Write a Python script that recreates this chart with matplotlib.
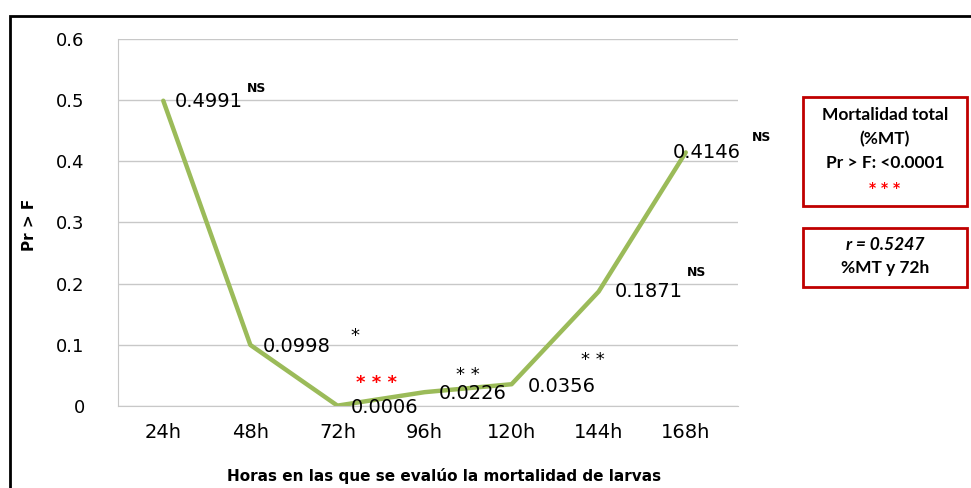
import matplotlib.pyplot as plt
from matplotlib.patches import Rectangle

# data
horas = ["24h", "48h", "72h", "96h", "120h", "144h", "168h"]
pr_f = [0.4991, 0.0998, 0.0006, 0.0226, 0.0356, 0.1871, 0.4146]
signif = ["NS", "*", "* * *", "* *", "* *", "NS", "NS"]
yticks = [0, 0.1, 0.2, 0.3, 0.4, 0.5, 0.6]
ytick_labels = ["0", "0.1", "0.2", "0.3", "0.4", "0.5", "0.6"]

W, H = 971, 488
fig = plt.figure(figsize=(W / 100, H / 100), dpi=100)
ax = fig.add_axes([118 / W, 1 - 406 / H, 620 / W, 367 / H])

green = "#9BBB59"
ax.plot(range(len(pr_f)), pr_f, color=green, lw=3.2, solid_capstyle="round")

ax.set_xlim(-0.52, 6.6)
ax.set_ylim(0, 0.6)
ax.set_yticks(yticks)
ax.set_yticklabels(ytick_labels, fontsize=13)
ax.set_xticks(range(len(horas)))
ax.set_xticklabels(horas, fontsize=14)
ax.tick_params(length=0)
ax.tick_params(axis="y", pad=24)
ax.tick_params(axis="x", pad=12)
ax.grid(axis="y", color="#c8c8c8", lw=1)
ax.set_axisbelow(True)
for s in ["top", "right"]:
    ax.spines[s].set_visible(False)
for s in ["left", "bottom"]:
    ax.spines[s].set_color("#c8c8c8")

# value labels (offsets in pixels from each point)
lab_off = [(11, -1), (12, -2), (13, -2), (14, -1), (16, -2), (16, 0), (-13, 0)]
sig_off = [(93, 12), (105, 9), (39, 23), (43, 17), (81, 24), (98, 19), (76, 15)]
for i, v in enumerate(pr_f):
    dx, dy = lab_off[i]
    ax.annotate(f"{v:.4f}", (i, v), xytext=(dx, dy), textcoords="offset pixels",
                ha="left", va="center", fontsize=14)
    sx, sy = sig_off[i]
    s = signif[i]
    if s == "NS":
        ax.annotate(s, (i, v), xytext=(sx, sy), textcoords="offset pixels",
                    ha="center", va="center", fontsize=9, fontweight="bold")
    elif s == "* * *":
        ax.annotate(s, (i, v), xytext=(sx, sy), textcoords="offset pixels",
                    ha="center", va="center", fontsize=13, fontweight="bold", color="red")
    else:
        ax.annotate(s, (i, v), xytext=(sx, sy), textcoords="offset pixels",
                    ha="center", va="center", fontsize=13)

# axis titles
fig.text(30 / W, 1 - 225 / H, "Pr > F", rotation=90, ha="center", va="center",
         fontsize=11, fontweight="bold")
fig.text(444 / W, 1 - 476 / H, "Horas en las que se evalúo la mortalidad de larvas",
         ha="center", va="center", fontsize=11, fontweight="bold")

# outer frame
fig.patches.append(Rectangle((10 / W, -0.1), 1.1, 1 - 16 / H + 0.1, transform=fig.transFigure,
                             fill=False, ec="black", lw=2))

# side boxes
red = "#C00000"
fig.patches.append(Rectangle((803 / W, 1 - 206 / H), 164 / W, 109 / H, transform=fig.transFigure,
                             fill=False, ec=red, lw=2))
fig.patches.append(Rectangle((803 / W, 1 - 287 / H), 164 / W, 59 / H, transform=fig.transFigure,
                             fill=False, ec=red, lw=2))
bx = 885 / W
bf = ["Lato", "DejaVu Sans"]
for txt, y in [("Mortalidad total", 115), ("(%MT)", 139), ("Pr > F: <0.0001", 163)]:
    fig.text(bx, 1 - y / H, txt, ha="center", va="center", fontsize=12.5,
             fontweight="bold", family=bf)
fig.text(bx, 1 - 188 / H, "* * *", ha="center", va="center", fontsize=10,
         fontweight="bold", color="red")
fig.text(bx, 1 - 245 / H, "r = 0.5247", ha="center", va="center", fontsize=12.5,
         fontweight="bold", style="italic", family=bf)
fig.text(bx, 1 - 268 / H, "%MT y 72h", ha="center", va="center", fontsize=12.5,
         fontweight="bold", family=bf)

fig.savefig("out.png", dpi=100)
